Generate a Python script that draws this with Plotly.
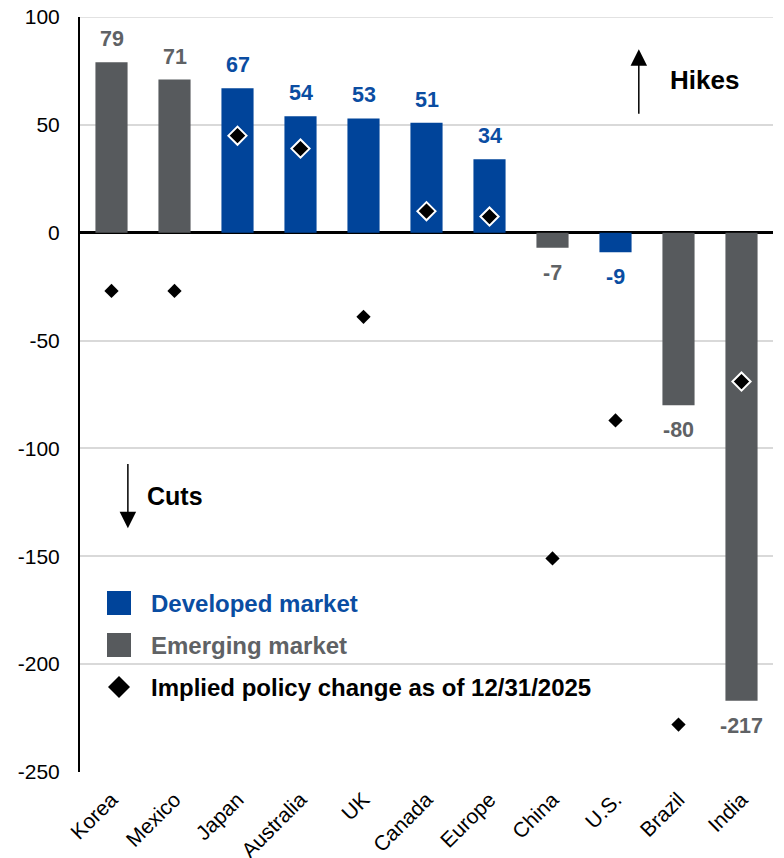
import plotly.graph_objects as go

countries = ["Korea", "Mexico", "Japan", "Australia", "UK", "Canada",
             "Europe", "China", "U.S.", "Brazil", "India"]
change = [79, 71, 67, 54, 53, 51, 34, -7, -9, -80, -217]
market = ["EM", "EM", "DM", "DM", "DM", "DM", "DM", "EM", "DM", "EM", "EM"]
implied = [-27, -27, 45, 39, -39, 10, 7.5, -151, -87, -228, -69]
y_ticks = [100, 50, 0, -50, -100, -150, -200, -250]

BLUE = "#00449A"
GRAY = "#575A5D"
FONT = "Arial, Liberation Sans, sans-serif"

bar_colors = [BLUE if m == "DM" else GRAY for m in market]
label_colors = ["#0A4DA2" if m == "DM" else "#5F6265" for m in market]

# diamonds sitting on a bar get a white outline
inside = [(c > 0 and 0 < v < c) or (c < 0 and c < v < 0) for c, v in zip(change, implied)]
edge_w = [2 if i else 0 for i in inside]
dsize = [14 if i else 11 for i in inside]

fig = go.Figure()
fig.add_trace(go.Bar(
    x=countries, y=change, marker=dict(color=bar_colors, line_width=0),
    width=0.51, showlegend=False, hoverinfo="x+y"
))
fig.add_trace(go.Scatter(
    x=countries, y=implied, mode="markers",
    marker=dict(symbol="diamond", color="#000000", size=dsize, opacity=1,
                line=dict(color="#FFFFFF", width=edge_w)),
    showlegend=False, cliponaxis=False
))

for c, v, col in zip(countries, change, label_colors):
    fig.add_annotation(
        x=c, y=v, text=f"<b>{v}</b>", showarrow=False,
        yshift=23 if v > 0 else -25, yanchor="middle",
        font=dict(size=21.5, color=col, family=FONT)
    )

# top gridline (plotly skips the one on the plot edge)
fig.add_shape(type="line", xref="paper", yref="y", x0=0, x1=1,
              y0=y_ticks[0], y1=y_ticks[0], line=dict(color="#D9D9D9", width=1.5),
              layer="below")

# Hikes / Cuts arrows
fig.add_annotation(x=8.37, y=85, ax=8.37, ay=54.5, xref="x", yref="y",
                   axref="x", ayref="y", text="", showarrow=True,
                   arrowhead=2, arrowsize=2.2, arrowwidth=1.5, arrowcolor="black")
fig.add_annotation(x=9.42, y=71, xref="x", yref="y", text="<b>Hikes</b>",
                   showarrow=False, font=dict(size=26, color="black", family=FONT))
fig.add_annotation(x=0.26, y=-137, ax=0.26, ay=-106.5, xref="x", yref="y",
                   axref="x", ayref="y", text="", showarrow=True,
                   arrowhead=2, arrowsize=2.2, arrowwidth=1.5, arrowcolor="black")
fig.add_annotation(x=1.0, y=-122, xref="x", yref="y", text="<b>Cuts</b>",
                   showarrow=False, font=dict(size=25, color="black", family=FONT))

# legend drawn by hand (pixel positions relative to plot area)
legend_items = [("Developed market", BLUE, "#0A4DA2", "square"),
                ("Emerging market", GRAY, "#5F6265", "square"),
                ("Implied policy change as of 12/31/2025", "black", "black", "diamond")]
W, H = 693, 755
for i, (name, sym_col, txt_col, kind) in enumerate(legend_items):
    cy = 603 + i * 42
    yc = (772 - cy) / H
    xs = (107 - 80) / W
    if kind == "square":
        fig.add_shape(type="rect", xref="paper", yref="paper",
                      x0=xs, x1=xs + 24 / W, y0=yc - 12 / H, y1=yc + 12 / H,
                      fillcolor=sym_col, line_width=0)
    else:
        cx = xs + 12 / W
        fig.add_shape(type="path", xref="paper", yref="paper",
                      path=f"M {cx} {yc + 11 / H} L {cx + 11 / W} {yc} L {cx} {yc - 11 / H} L {cx - 11 / W} {yc} Z",
                      fillcolor="black", line_width=0)
    fig.add_annotation(x=(149 - 80) / W, y=yc, xref="paper", yref="paper",
                       xanchor="left", yanchor="middle", showarrow=False,
                       text=f"<b>{name}</b>",
                       font=dict(size=24, color=txt_col, family=FONT))

fig.update_layout(
    width=776, height=850,
    margin=dict(l=72, r=11, t=9, b=86, autoexpand=False),
    paper_bgcolor="white", plot_bgcolor="white",
    font=dict(family=FONT, color="black"),
    bargap=0.49,
)
fig.update_xaxes(
    tickangle=-45, tickfont=dict(size=21, color="black"),
    showgrid=False, showline=False, ticks="outside", ticklen=6,
    tickcolor="rgba(0,0,0,0)", range=[-0.5, 10.5], automargin=False
)
fig.update_yaxes(
    range=[-250, 100], tickvals=y_ticks, ticktext=[str(t) for t in y_ticks],
    tickfont=dict(size=21, color="black"), ticklabeloverflow="allow",
    showgrid=True, gridcolor="#D9D9D9", gridwidth=1.5,
    zeroline=True, zerolinecolor="black", zerolinewidth=2.5,
    showline=True, linecolor="black", linewidth=2,
    ticks="outside", ticklen=14, tickcolor="rgba(0,0,0,0)", automargin=False
)

fig.write_html("out.html")
